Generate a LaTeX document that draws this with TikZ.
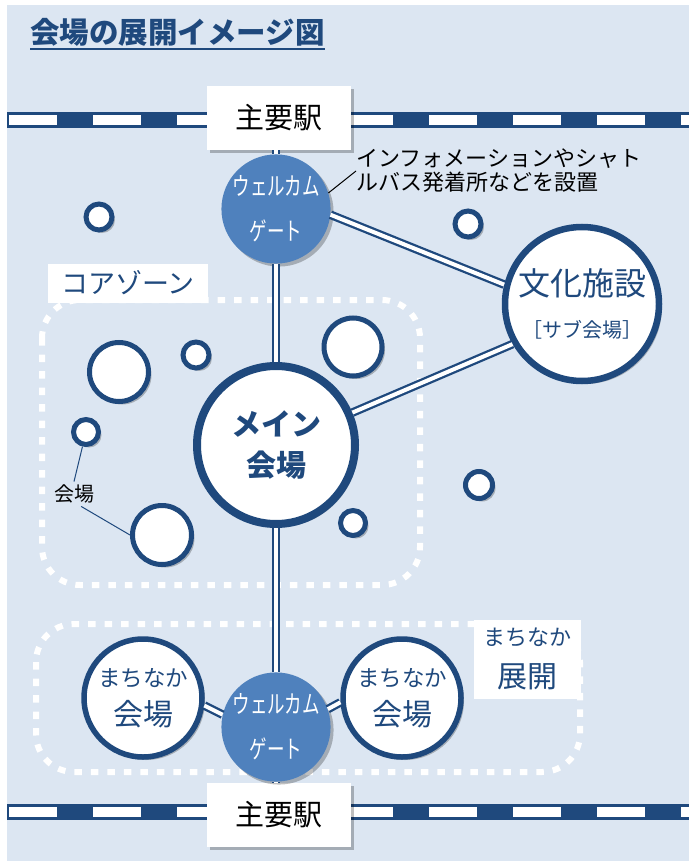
\documentclass[tikz,border=0pt]{standalone}
\usepackage{fontspec}
\setmainfont{Noto Sans CJK JP}
\newfontfamily\gatefont[FakeStretch=0.7]{Noto Sans CJK JP}
\usetikzlibrary{positioning,shadows}
\definecolor{navy}{RGB}{31,73,125}
\definecolor{paleblue}{RGB}{220,230,242}
\definecolor{gateblue}{RGB}{79,129,189}
\tikzset{
  shade drop/.style={drop shadow={shadow xshift=3pt,shadow yshift=-3pt,opacity=0.25,fill=black}},
  venue/.style={circle,draw=navy,fill=white,inner sep=0pt,line width=5pt,text=navy,align=center,shade drop},
  spot/.style={venue,minimum size=#1},
  gate/.style={circle,fill=gateblue,inner sep=0pt,minimum size=94pt,text=white,align=center,shade drop,
    font=\gatefont\fontsize{25}{45}\selectfont},
  station/.style={fill=white,minimum width=144pt,minimum height=64pt,font=\fontsize{29}{30}\selectfont,shade drop},
  tag/.style={fill=white,text=navy,inner sep=0pt,align=center},
  dline/.style={draw=navy,line width=2.3pt,double=white,double distance=4pt},
  zonebox/.style={draw=white,line width=6pt,dash pattern=on 7.5pt off 9pt,rounded corners=38pt},
  leader/.style={draw=black,line width=1pt},
}
\begin{document}
\begin{tikzpicture}[x=1pt,y=-1pt]
\useasboundingbox (0,0) rectangle (689,861);
\fill[paleblue] (7,5) rectangle (689,861);
% title
\node[anchor=base west,inner sep=0pt,text=navy,font=\bfseries\fontsize{29.5}{30}\selectfont] (title) at (30,44) {会場の展開イメージ図};
\draw[navy,line width=2.5pt] ([yshift=-5pt]title.base west) -- ([yshift=-5pt]title.base east);
% railway lines
\foreach \ry in {120,812}{
  \draw[navy,line width=16pt] (7,\ry) -- (689,\ry);
  \draw[white,line width=10pt,dash pattern=on 48pt off 36pt] (9,\ry) -- (689,\ry);
}
% zones
\draw[zonebox] (42,300) rectangle (420,585);
\draw[zonebox] (36,624) rectangle (580,772);
\node[tag,minimum width=160pt,minimum height=39pt,font=\fontsize{27}{28}\selectfont] (coreTag) at (128,283) {コアゾーン};
\node[tag,minimum width=107pt,minimum height=79pt,font=\fontsize{30}{42}\selectfont] (machiTag) at (527,659) {{\fontsize{22}{42}\selectfont まちなか}\\展開};
% stations and gates
\node[station] (stT) at (279,118) {主要駅};
\node[station] (stB) at (279,815) {主要駅};
\node[gate] (gateT) at (276,209) {ウェルカム\\ゲート};
\node[gate] (gateB) at (276,727) {ウェルカム\\ゲート};
% venues
\node[venue,line width=8pt,minimum size=158pt,font=\bfseries\fontsize{30}{41}\selectfont] (mainV) at (276,445) {メイン\\会場};
\node[venue,line width=6.5pt,minimum size=154pt,font=\fontsize{32}{42}\selectfont] (culture) at (582,304) {文化施設\\{\fontsize{20}{42}\selectfont ［サブ会場］}};
\node[venue,line width=5.5pt,minimum size=118pt,font=\fontsize{30}{39}\selectfont] (machiL) at (143,698) {{\fontsize{22.5}{39}\selectfont まちなか}\\会場};
\node[venue,line width=5.5pt,minimum size=118pt,font=\fontsize{30}{39}\selectfont] (machiR) at (402,698) {{\fontsize{22.5}{39}\selectfont まちなか}\\会場};
\foreach \sx/\sy/\sd [count=\si] in {99/217/26, 468/224/26, 196/355/26, 353/347/58, 119/372/59, 86/432/25, 162/535/59, 353/523/25, 479/485/27}
  \node[spot=\sd] (spot\si) at (\sx,\sy) {};
% connectors
\draw[dline] (gateT |- stT.south) -- (gateT);
\draw[dline] (gateT) -- (mainV);
\draw[dline] (mainV) -- (gateB);
\draw[dline] (gateB) -- (gateB |- stB.north);
\draw[dline] (gateT.354) -- (culture.166);
\draw[dline] (mainV.23) -- (culture.210);
\draw[dline] (machiL.-7) -- (gateB.167);
\draw[dline] (gateB.19) -- (machiR.184);
% notes
\node[anchor=west,inner sep=0pt,align=left,font=\fontsize{22}{24}\selectfont] (note) at (356,171) {インフォメーションやシャト\\ルバス発着所などを設置};
\draw[leader] (gateT.17) -- (note.west);
\node[inner sep=3pt,font=\fontsize{20}{22}\selectfont] (spotTag) at (74,494) {会場};
\draw[leader,draw=navy] (spot6) -- (spotTag.north);
\draw[leader,draw=navy] (spotTag.-60) -- (spot7.west);
\end{tikzpicture}
\end{document}
